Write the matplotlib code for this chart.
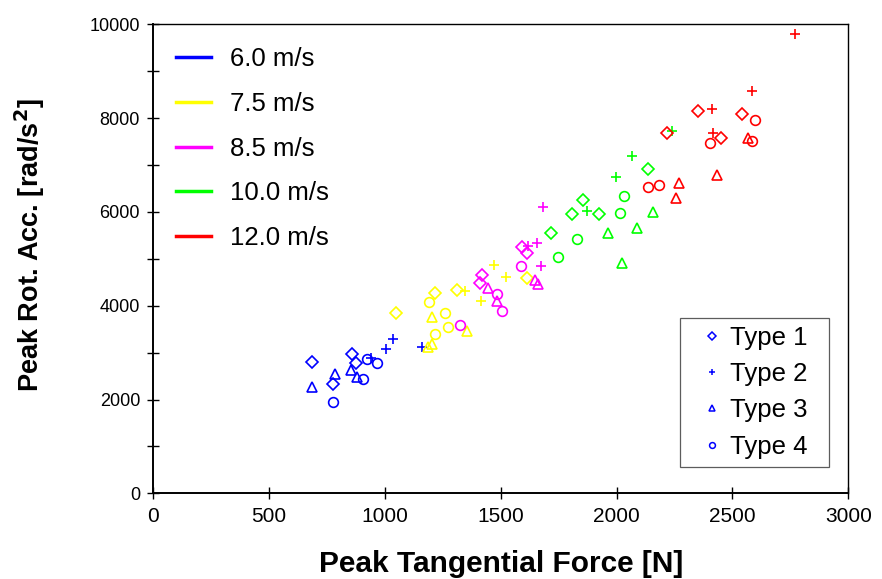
import matplotlib
matplotlib.use("Agg")
import matplotlib.pyplot as plt
from matplotlib.lines import Line2D
from matplotlib.ticker import MultipleLocator

plt.rcParams['font.family'] = ['Liberation Sans', 'DejaVu Sans']

speeds = ['6.0 m/s', '7.5 m/s', '8.5 m/s', '10.0 m/s', '12.0 m/s']
speed_colors = ['#0000ff', '#ffff00', '#ff00ff', '#00ff00', '#ff0000']

types = ['Type 1', 'Type 2', 'Type 3', 'Type 4']
type_markers = ['D', '+', '^', 'o']

# peak tangential force [N], one list per speed, for each helmet type
type1_force = [[686, 858, 874, 777], [1046, 1216, 1312, 1613], [1417, 1410, 1590, 1612],
               [1717, 1806, 1855, 1924, 2137], [2351, 2541, 2216, 2452]]
type1_acc = [[2793, 2964, 2772, 2330], [3838, 4264, 4335, 4584], [4654, 4477, 5245, 5117],
             [5544, 5949, 6254, 5955, 6908], [8151, 8087, 7689, 7582]]

type2_force = [[938, 1003, 1033, 1161], [1345, 1413, 1472, 1522], [1673, 1658, 1681, 1618],
               [1871, 1997, 2068, 2240], [2770, 2584, 2410, 2417]]
type2_acc = [[2878, 3077, 3283, 3126], [4320, 4107, 4868, 4605], [4847, 5344, 6098, 5275],
             [6026, 6750, 7192, 7725], [9787, 8584, 8188, 7689]]

type3_force = [[686, 784, 852, 878], [1202, 1355, 1204, 1187], [1443, 1482, 1648, 1662],
               [1961, 2088, 2158, 2023], [2568, 2434, 2270, 2255]]
type3_acc = [[2260, 2544, 2629, 2473], [3753, 3461, 3183, 3113], [4371, 4107, 4548, 4456],
             [5544, 5650, 5991, 4917], [7582, 6787, 6610, 6290]]

type4_force = [[774, 904, 921, 967], [1189, 1259, 1271, 1217], [1324, 1482, 1505, 1588],
               [1748, 1828, 2015, 2033], [2596, 2403, 2584, 2137, 2184]]
type4_acc = [[1953, 2437, 2857, 2772], [4079, 3838, 3539, 3390], [3588, 4243, 3893, 4853],
             [5032, 5416, 5983, 6345], [7960, 7476, 7511, 6537, 6573]]

all_force = [type1_force, type2_force, type3_force, type4_force]
all_acc = [type1_acc, type2_acc, type3_acc, type4_acc]
marker_sizes = [6.5, 7.5, 7, 7]

fig = plt.figure(figsize=(8.82, 5.79), dpi=100)
ax = fig.add_axes([0.1738, 0.148, 0.788, 0.810])

for s, color in enumerate(speed_colors):
    for t, marker in enumerate(type_markers):
        ax.plot(all_force[t][s], all_acc[t][s], linestyle='none', marker=marker,
                markersize=marker_sizes[t], markerfacecolor='none',
                markeredgecolor=color, markeredgewidth=1.2)

ax.set_xlim(0, 3000)
ax.set_ylim(0, 10000)
ax.xaxis.set_major_locator(MultipleLocator(500))
ax.yaxis.set_major_locator(MultipleLocator(2000))
ax.yaxis.set_minor_locator(MultipleLocator(1000))
ax.tick_params(axis='both', which='both', direction='inout', length=9, width=1,
               top=False, right=False)
ax.tick_params(axis='x', labelsize=15, pad=5)
ax.tick_params(axis='y', labelsize=13, pad=5)
for side in ['left', 'bottom']:
    ax.spines[side].set_linewidth(1.4)
for side in ['top', 'right']:
    ax.spines[side].set_linewidth(1.0)

ax.set_xlabel('Peak Tangential Force [N]', fontsize=21.5, fontweight='bold')
ax.xaxis.set_label_coords(0.5, -0.12)
ax.set_ylabel('Peak Rot. Acc. [rad/s$^\\mathbf{2}$]', fontsize=19.5, fontweight='bold')
ax.yaxis.set_label_coords(-0.153, 0.529)

# speed legend: coloured lines, no frame
speed_handles = [Line2D([0], [0], color=c, lw=2.5) for c in speed_colors]
leg1 = ax.legend(speed_handles, speeds, loc='upper left', bbox_to_anchor=(0.0, 1.0),
                 frameon=False, fontsize=18.5, handlelength=1.35, handletextpad=0.75,
                 labelspacing=0.8)
ax.add_artist(leg1)

# helmet type legend: blue markers inside a box
type_handles = [Line2D([0], [0], linestyle='none', marker=m, markersize=ms * 0.6,
                       markerfacecolor='none', markeredgecolor='#0000ff', markeredgewidth=1.1)
                for m, ms in zip(type_markers, marker_sizes)]
leg2 = ax.legend(type_handles, types, loc='lower left',
                 bbox_to_anchor=(0.758, 0.056, 0.2144, 0.318), mode='expand',
                 frameon=True, fancybox=False, fontsize=18.5, handlelength=1.8,
                 handletextpad=-0.2, labelspacing=0.47, borderpad=0.33, borderaxespad=0.0)
leg2.get_frame().set_edgecolor('#333333')
leg2.get_frame().set_linewidth(0.9)

fig.savefig('out.png', dpi=100)
